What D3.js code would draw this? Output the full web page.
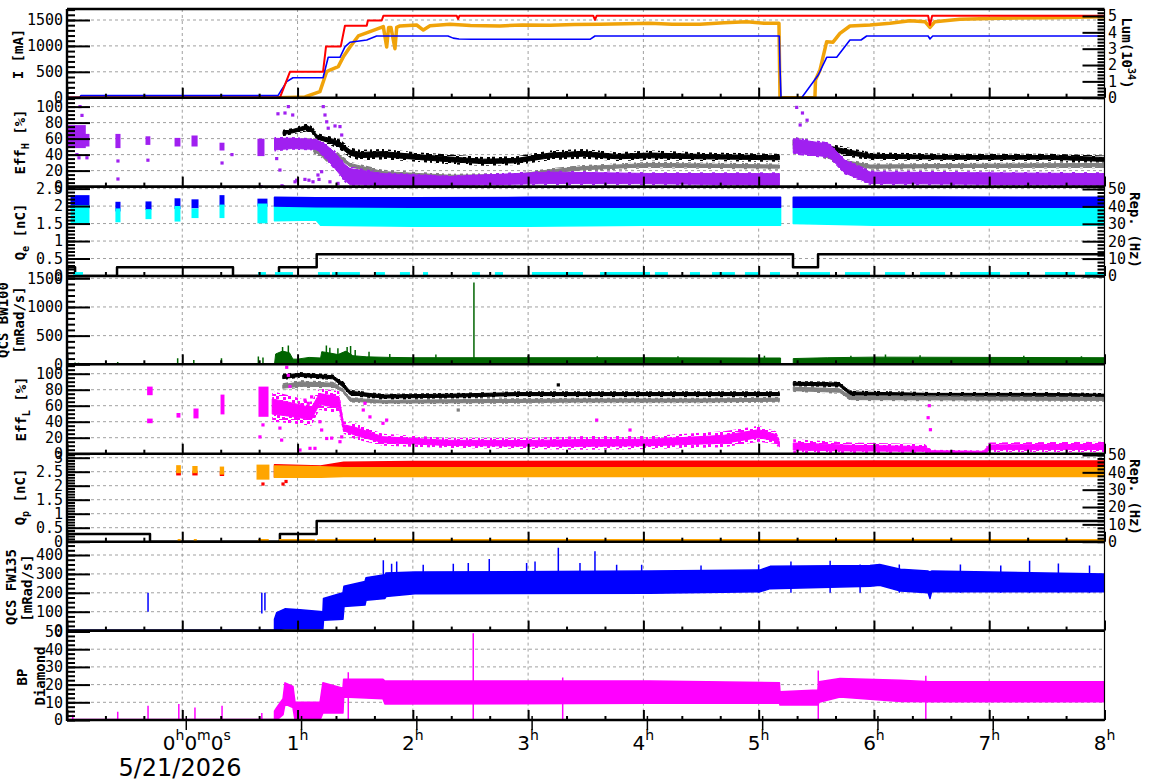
<!DOCTYPE html>
<html><head><meta charset="utf-8">
<script src="https://cdn.jsdelivr.net/npm/d3@7"></script>
<style>body{margin:0;background:#fff}svg{display:block}</style>
</head><body>
<svg id="c" width="1172" height="782"></svg>
<script>
// ---------------- DATA (time in hours) ----------------
// Panel 1: beam currents [mA] and luminosity [1e34]
const curRed = [[-1,3],[0.847,3],[0.934,500],[1.221,500],[1.247,990],[1.375,990],[1.411,1390],[1.600,1390],[1.610,1490],[1.730,1490],[1.745,1583],[2.380,1583],[2.392,1520],[2.405,1583],[3.565,1583],[3.580,1500],[3.595,1583],[6.470,1583],[6.486,1403],[6.505,1583],[8,1583]];
const curBlue = [[-1,3],[-0.89,3],[-0.88,40],[0.83,40],[0.906,309],[0.96,386],[1.221,386],[1.266,780],[1.368,780],[1.411,980],[1.455,1070],[1.600,1114],[1.686,1191],[2.305,1191],[2.35,1150],[2.40,1133],[2.513,1127],[3.537,1127],[3.58,1191],[5.179,1191],[5.185,587],[5.194,0],[5.373,0],[5.517,438],[5.590,780],[5.677,780],[5.792,1114],[5.888,1114],[5.937,1191],[6.47,1191],[6.486,1133],[6.51,1191],[8,1191]];
const lumi = [[0.82,0],[1.064,0.05],[1.194,0.37],[1.253,1.6],[1.296,1.74],[1.353,1.9],[1.397,2.5],[1.455,3.1],[1.527,3.78],[1.628,4.04],[1.744,4.35],[1.773,3.1],[1.79,4.3],[1.81,4.3],[1.845,3.0],[1.86,4.3],[1.888,4.39],[2.033,4.45],[2.091,4.14],[2.149,4.4],[2.322,4.5],[2.5,4.42],[2.756,4.39],[2.95,4.45],[3.190,4.43],[3.4,4.48],[3.623,4.5],[3.85,4.52],[4.057,4.55],[4.25,4.5],[4.491,4.5],[4.7,4.58],[4.896,4.65],[5.05,4.55],[5.176,4.55],[5.185,0],[5.488,0],[5.493,1.08],[5.532,1.7],[5.590,3.43],[5.645,3.4],[5.705,3.94],[5.792,4.39],[5.966,4.45],[6.139,4.55],[6.312,4.71],[6.443,4.65],[6.486,4.3],[6.529,4.65],[6.746,4.8],[7.093,4.86],[7.527,4.9],[7.995,4.96]];

// Panel 2: Eff_H [%]  bands [t, lo, hi]
const effHBlack = [
 [[0.874,63,71],[0.95,65,73],[1.079,69,79],[1.13,65,75],[1.166,57,67],[1.281,52,63],[1.368,46,59],[1.455,36,49],[1.542,33,46],[1.741,34,47],[2.033,31,43],[2.322,28,40],[2.611,26,37],[2.901,27,38],[3.19,33,45],[3.476,35,47],[3.768,32,43],[4.057,33,45],[4.491,32,43],[5.18,31,41]],
 [[5.30,48,62],[5.45,46,58],[5.705,39,51],[5.966,33,43],[6.66,32,41],[7.527,32,41],[8,29,39]]];
const effHGrey = [
 [[1.14,41,51],[1.2,37,47],[1.253,29,39],[1.339,35,44],[1.40,29,37],[1.455,23,31],[1.741,12,21],[2.322,9,16],[2.901,10,17],[3.19,15,23],[3.476,19,27],[4.057,23,31],[5.18,21,29]],
 [[5.30,44,56],[5.50,39,51],[5.705,27,36],[5.966,21,29],[8,23,31]]];
const effHPurple = [
 [[0.80,44,62],[0.95,46,62],[1.166,45,60],[1.238,35,55],[1.325,20,45],[1.411,5,30],[1.455,0,25],[1.741,0,18],[2.322,0,14],[3.19,2,20],[4.057,2,18],[5.18,0,18]],
 [[5.30,40,62],[5.616,35,55],[5.747,15,35],[5.966,2,20],[8,0,18]]];
const effHPurpleBursts = [[-1.0,-0.85,50,75],[-0.85,-0.818,52,64],[-0.567,-0.549,50,64],[-0.306,-0.29,54,61],[-0.054,-0.029,52,59],[0.093,0.12,52,62],[0.336,0.353,47,53],[0.665,0.70,40,58]];
const effHPurplePts = [[-0.887,100],[-0.87,89],[-0.914,40],[-0.896,36],[-0.827,36],[-0.558,32],[-0.558,9.5],[-0.298,33],[0.431,40],[0.345,29.5],[0.683,0],[0.83,91],[0.891,92],[0.92,100],[0.958,89.5],[1.223,100],[1.238,89.5],[1.253,81],[1.266,73],[1.325,75.8],[1.368,75],[1.383,64.5],[0.819,35],[0.847,20.7],[0.874,0],[0.865,1],[0.978,6],[0.992,8],[1.064,9],[1.099,8],[1.134,6],[1.177,14.5],[1.209,18.6],[1.186,9],[1.281,6],[1.351,4],[5.33,99],[5.38,92],[5.42,83],[5.36,77]];

// Panel 3: Q_e [nC] bands and repetition rate [Hz]
const qeBlue = [
 [[0.80,2.0,2.25],[1.16,1.98,2.24],[2.0,1.97,2.24],[3.0,1.97,2.25],[4.0,1.97,2.25],[5.19,1.97,2.25]],
 [[5.30,1.97,2.25],[6.5,1.97,2.26],[8,1.97,2.25]]];
const qeCyan = [
 [[0.80,1.58,2.0],[1.16,1.6,2.0],[1.20,1.45,1.96],[2.0,1.42,1.95],[3.0,1.42,1.95],[4.0,1.45,1.95],[5.19,1.45,1.95]],
 [[5.30,1.5,1.96],[6.0,1.45,1.95],[8,1.45,1.95]]];
const qeBlueBursts = [[-0.956,-0.818,1.98,2.27],[-0.567,-0.549,1.89,2.08],[-0.306,-0.28,1.93,2.09],[-0.054,-0.029,1.96,2.18],[0.093,0.128,1.98,2.15],[0.336,0.353,2.06,2.27],[0.665,0.726,2.03,2.17]];
const qeCyanBursts = [[-0.956,-0.818,1.55,1.98],[-0.567,-0.549,1.58,1.89],[-0.306,-0.28,1.67,1.87],[-0.054,-0.029,1.6,1.96],[0.093,0.128,1.7,1.89],[0.336,0.353,1.7,2.0],[0.665,0.726,1.55,2.03]];
const repE = [[-1,5],[-0.93,0],[-0.566,5],[0.44,0],[0.839,5],[1.166,12.5],[5.298,5],[5.515,12.5],[8,12.5]];
const repECyanLow = [[-0.948,-0.861],[0.657,0.726],[0.804,0.96],[1.177,1.281],[1.299,1.541],[1.68,1.758],[1.888,1.975],[2.088,2.132],[2.513,2.582],[2.712,2.782],[3.033,3.476],[3.624,4.057],[4.1,4.213],[4.404,4.491],[4.595,4.794],[4.881,5.011],[5.098,5.185],[5.358,5.619],[5.749,5.966],[6.096,6.27],[6.4,6.617],[6.747,7.094],[7.18,7.354],[7.484,7.744],[7.831,7.996]];

// Panel 4: QCS BW100 [mRad/s]
const bwGreen = [
 [[0.80,0],[0.81,180],[0.87,230],[0.93,200],[0.96,90],[1.0,90],[1.1,120],[1.2,110],[1.21,220],[1.27,200],[1.35,170],[1.42,230],[1.48,150],[1.6,130],[1.8,120],[2.0,115],[3.0,115],[4.0,115],[5.0,110],[5.19,110],[5.19,0]],
 [[5.30,0],[5.30,100],[5.6,115],[6.0,125],[7,120],[8,115]]];
const bwSpikes = [[-0.93,30],[-0.9,25],[-0.56,40],[-0.04,105],[0.1,75],[0.34,105],[0.66,134],[0.7,120],[0.87,300],[0.92,326],[1.25,330],[1.28,290],[1.35,280],[1.43,300],[1.46,320],[1.5,250],[1.62,220],[1.8,180],[2.2,170],[2.53,1426],[3.0,150],[3.6,140],[4.3,140],[5.05,150],[5.8,150],[6.1,170],[6.4,160],[7.3,150],[7.8,140]];

// Panel 5: Eff_L [%]
const effLBlack = [
 [[0.872,92,100],[1.02,95,102],[1.307,92,99],[1.394,81,91],[1.455,72,80],[1.741,68,75],[2.322,69,76],[2.9,71,78],[3.48,71,78],[4.06,71,78],[4.5,71,78],[5.18,71,78]],
 [[5.30,84,91],[5.70,83,90],[5.80,71,79],[6.5,70,77],[7.5,70,77],[8,69,76]]];
const effLGrey = [
 [[0.872,80,88],[1.02,82,92],[1.307,82,90],[1.394,76,82],[1.455,64,71],[1.741,62,68],[2.322,62,69],[3.48,63,70],[4.5,63,70],[5.18,64,71]],
 [[5.30,77,85],[5.70,75,83],[5.80,66,73],[8,65,72]]];
const effLMagenta = [
 [[0.78,40,78],[0.95,38,72],[1.12,35,65],[1.19,55,82],[1.36,50,78],[1.40,25,40],[1.50,18,38],[1.74,10,25],[2.3,7,20],[3.0,6,20],[3.5,5,22],[4.06,6,22],[4.7,8,28],[5.0,15,35],[5.15,12,28],[5.18,5,18]],
 [[5.30,0,18],[5.8,0,14],[6.44,0,12],[6.50,0,5],[6.95,0,4],[7.0,2,14],[8,2,15]]];
const effLMagBursts = [[-0.292,-0.27,75,82],[-0.292,-0.27,40,42],[-0.037,-0.029,47,49],[0.11,0.128,46,54.6],[0.345,0.353,51,72],[0.674,0.735,48,82]];
const effLMagPts = [[0.906,108],[0.92,98],[0.934,84],[0.83,59],[0.70,36],[0.847,32],[0.862,17],[1.021,4.6],[1.108,6.7],[1.151,6.7],[1.194,40],[1.209,29.6],[1.253,19],[1.296,19.5],[1.368,15],[1.383,21],[1.036,61],[1.064,67],[1.093,63],[1.122,71],[1.050,50.5],[0.963,54.6],[1.57,54.6],[1.585,63],[1.628,46],[1.773,42],[1.741,38],[3.595,42],[3.884,29.6],[0.674,21],[6.48,60],[6.47,45],[6.49,30]];
const effLGreyPts = [[2.394,54.6]];
const effLBlackPts = [[3.262,86]];

// Panel 6: Q_p [nC] and repetition rate [Hz]
const qpRed = [[[0.80,2.3,2.75],[1.2,2.45,2.7],[1.40,2.62,2.84],[2,2.63,2.86],[4,2.64,2.87],[6,2.66,2.88],[8,2.66,2.88]]];
const qpOrange = [[[0.80,2.3,2.7],[1.2,2.3,2.68],[1.4,2.33,2.64],[8,2.33,2.64]]];
const qpRedBursts = [[-0.04,-0.025,2.42,2.5],[0.1,0.12,2.42,2.48],[0.338,0.35,2.4,2.45],[0.665,0.73,2.3,2.65]];
const qpOrangeBursts = [[-0.04,-0.025,2.5,2.68],[0.1,0.12,2.5,2.65],[0.338,0.35,2.45,2.63],[0.657,0.743,2.27,2.7]];
const qpRedPts = [[0.7,2.06],[0.874,2.06],[0.9,2.15]];
const repP = [[-1,4.5],[-0.28,0],[0.847,4.5],[1.166,12],[8,12]];
const repPOrangeLow = [[-0.04,-0.025],[0.1,0.115],[0.657,0.75],[0.84,1.15],[1.17,8.0]];

// Panel 7: QCS FW135 [mRad/s]
const fwBand = [[[0.80,0,60],[0.819,5,95],[0.891,10,115],[1.021,10,110],[1.22,10,100],[1.225,55,170],[1.394,60,200],[1.403,127,235],[1.585,135,260],[1.594,160,280],[1.758,170,295],[1.767,180,305],[2.018,195,310],[4.057,198,315],[5.01,205,320],[5.1,222,340],[5.966,235,345],[6.05,240,350],[6.23,210,325],[6.47,200,315],[6.486,170,310],[6.50,205,315],[8,206,300]]];
const fwBase = [[-1,0],[0.80,0]];
const fwSpikes = [[-0.297,100],[0.69,90],[0.717,106],[1.744,372],[1.816,354],[1.86,366],[2.09,349],[2.351,354],[2.481,358],[2.663,379],[2.987,358],[3.06,366],[3.262,438],[3.45,358],[3.58,420],[3.768,349],[3.985,349],[4.5,345],[5.0,350],[5.28,365],[5.62,370],[5.88,350],[6.22,350],[6.75,350],[7.1,345],[7.35,370],[7.6,355],[7.87,345]];

// Panel 8: BP Diamond
const bpBand = [[[0.80,0,5],[0.819,0,7],[0.874,3,12],[0.891,9,21],[0.96,7,19],[0.978,0,10],[1.195,0,10],[1.22,4,21],[1.394,4,18],[1.40,13,23],[1.741,12,23],[1.758,9,22],[4.057,9.5,22],[5.18,9.5,21],[5.185,8.5,16],[5.515,8.5,17],[5.524,10,21.6],[5.705,13,23.5],[6.23,10.5,22.5],[6.486,10.3,21.6],[8,10.3,21.6]]];
const bpBase = [[-1,0],[0.80,0]];
const bpSpikes = [[-0.95,3],[-0.56,4.7],[-0.297,8],[-0.03,9],[0.11,7],[0.345,8],[0.69,4],[1.44,27],[2.524,49],[3.3,24],[5.517,28],[6.45,25]];

// Axis tick values
const hourTicks = [-1,0,1,2,3,4,5,6,7,8];
const hourLabels = [1,2,3,4,5,6,7,8];
const dateLabel = "5/21/2026";

// ---------------- LAYOUT ----------------
const X0=67, X1=1104.5;
const svg = d3.select('#c');
const x = d3.scaleLinear().domain([-1,8]).range([X0,X1]);
const MONO = "'DejaVu Sans Mono', monospace";
const SANS = "'DejaVu Sans', sans-serif";

const panels = [
 {key:'I',   top:9,     bottom:97.7,  ref:1500, yRef:20,    ticks:[0,500,1000,1500], minor:100,
   right:{ref:5, yRef:16, ticks:[0,1,2,3,4,5], minor:0.2}},
 {key:'effH',top:97.7,  bottom:186.6, ref:100,  yRef:106.6, ticks:[0,20,40,60,80,100], minor:5},
 {key:'qe',  top:186.6, bottom:276,   ref:2.5,  yRef:188.6, ticks:[0,0.5,1,1.5,2,2.5], minor:0.1,
   right:{ref:50, yRef:189, ticks:[0,10,20,30,40,50], minor:2}},
 {key:'bw',  top:276,   bottom:364.3, ref:1500, yRef:278.3, ticks:[0,500,1000,1500], minor:100},
 {key:'effL',top:364.3, bottom:453.7, ref:100,  yRef:373.7, ticks:[0,20,40,60,80,100], minor:5},
 {key:'qp',  top:453.7, bottom:541.7, ref:3,    yRef:457.7, ticks:[0,0.5,1,1.5,2,2.5,3], minor:0.1,
   right:{ref:50, yRef:455, ticks:[0,10,20,30,40,50], minor:2}},
 {key:'fw',  top:541.7, bottom:630.6, ref:400,  yRef:555,   ticks:[0,100,200,300,400], minor:25},
 {key:'bp',  top:630.6, bottom:720,   ref:50,   yRef:631.5, ticks:[0,10,20,30,40,50], minor:2.5}
];
panels.forEach(p=>{
  p.y = d3.scaleLinear().domain([0,p.ref]).range([p.bottom,p.yRef]);
  if(p.right) p.yR = d3.scaleLinear().domain([0,p.right.ref]).range([p.bottom,p.right.yRef]);
});
const P = Object.fromEntries(panels.map(p=>[p.key,p]));

const defs = svg.append('defs');
// scatter-like fringe patterns
function makePattern(id, color, cells){
  const pt = defs.append('pattern').attr('id',id).attr('patternUnits','userSpaceOnUse').attr('width',12).attr('height',12);
  cells.forEach(c=>pt.append('rect').attr('x',c[0]).attr('y',c[1]).attr('width',3).attr('height',3).attr('fill',color));
}
const fringeCells = [[0,0],[7,1],[4,4],[10,5],[1,7],[6,9],[9,10],[3,11]];
makePattern('p-black','#000',fringeCells);
makePattern('p-grey','#808080',fringeCells);
makePattern('p-mag','#ff00ff',fringeCells);
makePattern('p-purple','#a020f0',fringeCells);

const gGrid = svg.append('g');
const gData = svg.append('g');
const gAxes = svg.append('g');

// grid
panels.forEach(p=>{
  p.ticks.filter(v=>v>0 && p.y(v)>p.top+1).forEach(v=>{
    gGrid.append('line').attr('x1',X0).attr('x2',X1).attr('y1',p.y(v)).attr('y2',p.y(v))
      .attr('stroke','#a0a0a0').attr('stroke-width',1).attr('stroke-dasharray','3,3');
  });
  [0,1,2,3,4,5,6,7].forEach(h=>{
    gGrid.append('line').attr('x1',x(h)).attr('x2',x(h)).attr('y1',p.top).attr('y2',p.bottom)
      .attr('stroke','#a0a0a0').attr('stroke-width',1).attr('stroke-dasharray','3,3');
  });
  defs.append('clipPath').attr('id','clip-'+p.key).append('rect')
    .attr('x',X0).attr('y',p.top).attr('width',X1-X0).attr('height',p.bottom-p.top);
  p.g = gData.append('g').attr('clip-path',`url(#clip-${p.key})`);
});

// drawing helpers
function band(g, segs, y, color){
  const a = d3.area().x(d=>x(d[0])).y0(d=>y(d[1])).y1(d=>y(d[2]));
  segs.forEach(s=>g.append('path').attr('d',a(s)).attr('fill',color).attr('stroke',color).attr('stroke-width',1.5).attr('stroke-linejoin','round'));
}
// scattered band: sparse fringe over the full range, solid core in the middle
function scatterBand(g, segs, y, color, pattern, coreFrac){
  const full = d3.area().x(d=>x(d[0])).y0(d=>y(d[1])).y1(d=>y(d[2]));
  const c = (1-coreFrac)/2;
  const core = d3.area().x(d=>x(d[0])).y0(d=>y(d[1]+(d[2]-d[1])*c)).y1(d=>y(d[2]-(d[2]-d[1])*c));
  segs.forEach(s=>{
    g.append('path').attr('d',full(s)).attr('fill',pattern);
    g.append('path').attr('d',core(s)).attr('fill',color).attr('stroke',color).attr('stroke-width',1);
  });
}
function fillTo0(g, segs, y, color){
  const a = d3.area().x(d=>x(d[0])).y0(y(0)).y1(d=>y(d[1]));
  segs.forEach(s=>g.append('path').attr('d',a(s)).attr('fill',color).attr('stroke',color).attr('stroke-width',1));
}
function line(g, data, y, color, w, curve){
  const l = d3.line().x(d=>x(d[0])).y(d=>y(d[1])).curve(curve||d3.curveLinear);
  g.append('path').attr('d',l(data)).attr('fill','none').attr('stroke',color).attr('stroke-width',w).attr('stroke-linejoin','round');
}
function bursts(g, list, y, color){
  list.forEach(b=>g.append('rect').attr('x',x(b[0])-1.5).attr('width',Math.max(3,x(b[1])-x(b[0])+3))
    .attr('y',y(b[3])-1.5).attr('height',y(b[2])-y(b[3])+3).attr('fill',color));
}
function pts(g, list, y, color){
  list.forEach(d=>g.append('rect').attr('x',x(d[0])-1.6).attr('y',y(d[1])-1.6).attr('width',3.2).attr('height',3.2).attr('fill',color));
}
function spikes(g, list, y, base, color, w){
  list.forEach(d=>g.append('line').attr('x1',x(d[0])).attr('x2',x(d[0])).attr('y1',y(base)).attr('y2',y(d[1])).attr('stroke',color).attr('stroke-width',w));
}
function lowSegs(g, list, y, v, color, w){
  list.forEach(s=>g.append('line').attr('x1',x(s[0])).attr('x2',Math.max(x(s[1]),x(s[0])+3)).attr('y1',y(v)).attr('y2',y(v)).attr('stroke',color).attr('stroke-width',w));
}

// Panel 1
line(P.I.g, lumi, P.I.yR, '#f0a30a', 3.5);
line(P.I.g, curBlue, P.I.y, '#0000ff', 1.6);
line(P.I.g, curRed, P.I.y, '#ff0000', 2);
// Panel 2
scatterBand(P.effH.g, effHBlack, P.effH.y, '#000', 'url(#p-black)', 0.5);
scatterBand(P.effH.g, effHGrey, P.effH.y, '#808080', 'url(#p-grey)', 0.5);
scatterBand(P.effH.g, effHPurple, P.effH.y, '#a020f0', 'url(#p-purple)', 0.8);
bursts(P.effH.g, effHPurpleBursts, P.effH.y, '#a020f0');
pts(P.effH.g, effHPurplePts, P.effH.y, '#a020f0');
// Panel 3
band(P.qe.g, qeCyan, P.qe.y, '#00ffff');
band(P.qe.g, qeBlue, P.qe.y, '#0000ff');
bursts(P.qe.g, qeBlueBursts, P.qe.y, '#0000ff');
bursts(P.qe.g, qeCyanBursts, P.qe.y, '#00ffff');
line(P.qe.g, repE, P.qe.yR, '#000000', 2.5, d3.curveStepAfter);
lowSegs(P.qe.g, repECyanLow, P.qe.yR, 1.4, '#00ffff', 3);
// Panel 4
fillTo0(P.bw.g, bwGreen, P.bw.y, '#006400');
spikes(P.bw.g, bwSpikes, P.bw.y, 0, '#006400', 1.5);
// Panel 5
scatterBand(P.effL.g, effLBlack, P.effL.y, '#000', 'url(#p-black)', 0.55);
scatterBand(P.effL.g, effLGrey, P.effL.y, '#808080', 'url(#p-grey)', 0.55);
scatterBand(P.effL.g, effLMagenta, P.effL.y, '#ff00ff', 'url(#p-mag)', 0.5);
bursts(P.effL.g, effLMagBursts, P.effL.y, '#ff00ff');
pts(P.effL.g, effLMagPts, P.effL.y, '#ff00ff');
pts(P.effL.g, effLGreyPts, P.effL.y, '#808080');
pts(P.effL.g, effLBlackPts, P.effL.y, '#000000');
// Panel 6
band(P.qp.g, qpRed, P.qp.y, '#ff0000');
band(P.qp.g, qpOrange, P.qp.y, '#ffa500');
bursts(P.qp.g, qpRedBursts, P.qp.y, '#ff0000');
bursts(P.qp.g, qpOrangeBursts, P.qp.y, '#ffa500');
pts(P.qp.g, qpRedPts, P.qp.y, '#ff0000');
line(P.qp.g, repP, P.qp.yR, '#000000', 2.5, d3.curveStepAfter);
lowSegs(P.qp.g, repPOrangeLow, P.qp.yR, 0.9, '#ffa500', 2.5);
// Panel 7
line(P.fw.g, fwBase, P.fw.y, '#0000ff', 2);
band(P.fw.g, fwBand, P.fw.y, '#0000ff');
spikes(P.fw.g, fwSpikes, P.fw.y, 200, '#0000ff', 1.5);
// Panel 8
line(P.bp.g, bpBase, P.bp.y, '#ff00ff', 2.5);
band(P.bp.g, bpBand, P.bp.y, '#ff00ff');
spikes(P.bp.g, bpSpikes, P.bp.y, 0, '#ff00ff', 1.5);

// axes
function styleAxis(g, size){
  g.select('.domain').remove();
  g.selectAll('line').attr('stroke','#000').attr('stroke-width',2);
  g.attr('font-family',MONO).attr('font-size',size||15);
  g.selectAll('text').attr('fill','#000');
}
panels.forEach(p=>{
  const maxV = p.y.invert(p.top);
  const minors = d3.range(0, Math.floor(maxV/p.minor+1e-6)+1).map(i=>+(i*p.minor).toFixed(4));
  gAxes.append('g').attr('transform',`translate(${X0},0)`)
    .call(d3.axisLeft(p.y).tickValues(minors).tickSize(-8).tickFormat(''))
    .call(g=>styleAxis(g));
  gAxes.append('g').attr('transform',`translate(${X0},0)`)
    .call(d3.axisLeft(p.y).tickValues(p.ticks).tickSize(-23).tickPadding(4).tickFormat(d=>String(d)))
    .call(g=>styleAxis(g));
  if(p.right){
    const rmax = p.yR.invert(p.top);
    const rmin = d3.range(0, Math.floor(rmax/p.right.minor+1e-6)+1).map(i=>+(i*p.right.minor).toFixed(4));
    gAxes.append('g').attr('transform',`translate(${X1},0)`)
      .call(d3.axisRight(p.yR).tickValues(rmin).tickSize(-7).tickFormat(''))
      .call(g=>styleAxis(g));
    gAxes.append('g').attr('transform',`translate(${X1},0)`)
      .call(d3.axisRight(p.yR).tickValues(p.right.ticks).tickSize(-22).tickPadding(3.5).tickFormat(d=>String(d)))
      .call(g=>styleAxis(g));
  }
  const minorH = d3.range(0,28).map(i=>-1+i/3).filter(h=>Math.abs(h-Math.round(h))>0.01);
  gAxes.append('g').attr('transform',`translate(0,${p.bottom})`)
    .call(d3.axisBottom(x).tickValues(minorH).tickSize(-4).tickFormat(''))
    .call(g=>styleAxis(g));
  gAxes.append('g').attr('transform',`translate(0,${p.bottom})`)
    .call(d3.axisBottom(x).tickValues(hourTicks).tickSize(-10).tickFormat(''))
    .call(g=>styleAxis(g));
  gAxes.append('line').attr('x1',X0).attr('x2',X1).attr('y1',p.bottom).attr('y2',p.bottom)
    .attr('stroke','#000').attr('stroke-width',2.6);
});
// frame
gAxes.append('line').attr('x1',X0).attr('x2',X1).attr('y1',9).attr('y2',9).attr('stroke','#000').attr('stroke-width',2.4);
gAxes.append('line').attr('x1',X0).attr('x2',X0).attr('y1',9).attr('y2',721).attr('stroke','#000').attr('stroke-width',2.4);
gAxes.append('line').attr('x1',X1).attr('x2',X1).attr('y1',9).attr('y2',721).attr('stroke','#000').attr('stroke-width',1.2);
[0,1,2,3,4,5,6,7].forEach(h=>gAxes.append('line').attr('x1',x(h)+4).attr('x2',x(h)+4).attr('y1',716).attr('y2',730).attr('stroke','#000').attr('stroke-width',1.5));

// x labels
hourLabels.forEach(h=>{
  const t = svg.append('text').attr('x',x(h)).attr('y',750).attr('text-anchor','middle')
    .attr('font-family',SANS).attr('font-size',20).attr('fill','#000');
  t.append('tspan').text(String(h));
  t.append('tspan').attr('font-size',14).attr('dy',-10).text('h');
});
{
  const t = svg.append('text').attr('x',x(0)+14.5).attr('y',750).attr('text-anchor','middle')
    .attr('font-family',SANS).attr('font-size',20).attr('fill','#000');
  [['0','h'],['0','m'],['0','s']].forEach((pr,i)=>{
    t.append('tspan').attr('dy',i===0?0:10).text(pr[0]);
    t.append('tspan').attr('font-size',14).attr('dy',-10).text(pr[1]);
  });
  svg.append('text').attr('x',180).attr('y',776).attr('text-anchor','middle')
    .attr('font-family',SANS).attr('font-size',24).attr('fill','#000').text(dateLabel);
}

// axis titles
function title(cx, cy, rot, parts, size){
  size = size||14;
  const t = svg.append('text').attr('transform',`translate(${cx},${cy}) rotate(${rot})`)
    .attr('text-anchor','middle').attr('y',size*0.36).attr('font-family',MONO).attr('font-weight','bold')
    .attr('font-size',size).attr('fill','#000');
  let shift = 0;
  parts.forEach(pt=>{
    const s = t.append('tspan').text(pt.t);
    let target = pt.sub ? 4 : pt.sup ? -6 : 0;
    s.attr('dy', target-shift); shift = target;
    if(pt.sub||pt.sup) s.attr('font-size',size*0.72);
  });
}
title(18,54,-90,[{t:'I [mA]'}]);
title(20,142,-90,[{t:'Eff'},{t:'H',sub:1},{t:' [%]'}]);
title(20,232,-90,[{t:'Q'},{t:'e',sub:1},{t:' [nC]'}]);
title(3,320,-90,[{t:'QCS BW100'}]);
title(19,320,-90,[{t:'[mRad/s]'}]);
title(21,409,-90,[{t:'Eff'},{t:'L',sub:1},{t:' [%]'}]);
title(20,497,-90,[{t:'Q'},{t:'p',sub:1},{t:' [nC]'}]);
title(11,587,-90,[{t:'QCS FW135'}]);
title(27,588,-90,[{t:'[mRad/s]'}]);
title(22,677,-90,[{t:'BP'}]);
title(40,676,-90,[{t:'Diamond'}]);
title(1127,53,90,[{t:'Lum(10'},{t:'34',sup:1},{t:')'}]);
title(1135,230,90,[{t:'Rep. (Hz)'}]);
title(1135,497,90,[{t:'Rep. (Hz)'}]);
</script>
</body></html>
